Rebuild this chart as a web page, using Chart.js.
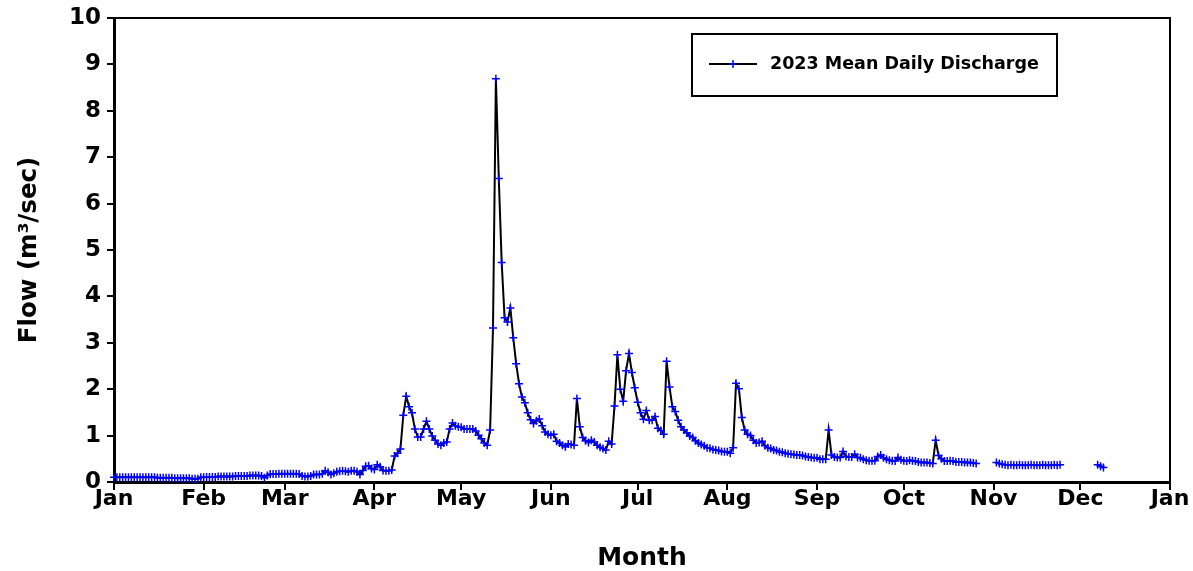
<!DOCTYPE html>
<html>
<head>
<meta charset="utf-8">
<script src="https://cdn.jsdelivr.net/npm/chart.js@4/dist/chart.umd.min.js"></script>
<style>
  body { margin: 0; background: #fff; }
  canvas { display: block; }
</style>
</head>
<body>
<canvas id="flowChart" width="1193" height="571"></canvas>
<script>
// Daily mean discharge 2023 (m3/sec), one array per month, null = missing day
const flowJan = [0.10,0.10,0.10,0.10,0.10,0.10,0.10,0.10,0.10,0.10,
  0.10,0.10,0.10,0.10,0.10,0.09,0.09,0.09,0.09,0.09,
  0.09,0.08,0.08,0.08,0.08,0.08,0.08,0.07,0.07,0.07,0.10];
const flowFeb = [0.10,0.11,0.11,0.11,0.11,0.12,0.12,0.12,0.12,
  0.12,0.12,0.13,0.13,0.13,0.13,0.13,0.14,0.14,0.14,
  0.14,0.13,0.09,0.14,0.17,0.17,0.17,0.18,0.18];
const flowMar = [0.18,
  0.18,0.18,0.18,0.18,0.17,0.13,0.12,0.12,0.13,0.16,
  0.16,0.16,0.18,0.24,0.21,0.16,0.19,0.22,0.23,0.24,
  0.23,0.22,0.24,0.24,0.22,0.16,0.25,0.34,0.35,0.29];
const flowApr = [0.27,0.37,0.33,0.25,0.24,0.24,0.26,0.56,0.62,0.71,
  1.44,1.85,1.62,1.49,1.14,0.97,0.97,1.14,1.31,1.14,
  0.99,0.90,0.82,0.79,0.84,0.86,1.14,1.27,1.21,1.19];
const flowMay = [1.18,1.14,1.14,1.14,1.14,1.10,1.01,0.93,0.84,0.79,
  1.12,3.32,8.69,6.54,4.73,3.54,3.45,3.75,3.11,2.55,
  2.12,1.83,1.71,1.49,1.34,1.26,1.32,1.36,1.21,1.08,1.03];
const flowJun = [1.01,1.03,0.88,0.84,0.79,0.76,0.82,0.81,0.79,
  1.80,1.19,0.96,0.89,0.85,0.90,0.86,0.79,0.75,0.72,
  0.69,0.88,0.82,1.64,2.74,2.00,1.74,2.40,2.77,2.36,2.03];
const flowJul = [1.72,1.49,1.35,1.54,1.33,1.33,1.41,1.16,1.11,1.03,
  2.60,2.05,1.62,1.52,1.33,1.19,1.12,1.06,0.99,0.96,
  0.89,0.84,0.81,0.78,0.74,0.73,0.70,0.69,0.68,0.66,0.65];
const flowAug = [0.65,0.62,0.74,2.13,2.01,1.39,1.12,1.03,1.00,
  0.90,0.84,0.85,0.88,0.78,0.74,0.72,0.69,0.68,0.65,
  0.64,0.62,0.61,0.60,0.59,0.58,0.58,0.57,0.55,0.54,0.53,0.52];
const flowSep = [0.52,0.49,0.49,0.49,1.12,0.58,0.54,0.53,0.53,0.66,
  0.55,0.54,0.54,0.60,0.53,0.52,0.49,0.47,0.46,0.46,
  0.46,0.55,0.58,0.52,0.49,0.47,0.46,0.45,0.53,0.48];
const flowOct = [0.46,0.45,0.47,0.46,0.45,0.43,0.42,0.42,0.42,0.41,0.40,
  0.90,0.57,0.50,0.45,0.45,0.46,0.45,0.43,0.43,0.43,0.42,0.42,0.42,0.41,0.40,
  null,null,null,null,null];
const flowNov = [null,
  0.42,0.40,0.38,0.37,0.36,0.37,0.36,0.36,0.37,0.36,0.36,0.36,
  0.37,0.36,0.36,0.36,0.37,0.36,0.36,0.36,0.37,0.36,0.37,
  null,null,null,null,null,null];
const flowDec = [null,null,null,null,null,null,0.37,0.34,0.31];

const monthStarts = [0,31,59,90,120,151,181,212,243,273,304,334,365];
const monthLabels = ['Jan','Feb','Mar','Apr','May','Jun','Jul','Aug','Sep','Oct','Nov','Dec','Jan'];

const flow = [].concat(flowJan, flowFeb, flowMar, flowApr, flowMay, flowJun,
  flowJul, flowAug, flowSep, flowOct, flowNov, flowDec);
const points = flow.map((v, i) => ({ x: i, y: v }));

const boldFont = (size) => ({ family: '"DejaVu Sans", sans-serif', size: size, weight: 'bold' });

// top/right frame and the boxed legend inside the plot
const frameAndLegend = {
  id: 'frameAndLegend',
  afterDatasetsDraw(chart) {
    const { ctx, chartArea: a } = chart;
    ctx.save();
    ctx.strokeStyle = '#000';
    ctx.lineWidth = 2;
    ctx.beginPath();
    ctx.moveTo(a.left, a.top);
    ctx.lineTo(a.right, a.top);
    ctx.lineTo(a.right, a.bottom);
    ctx.stroke();

    const bx = a.left + 578, by = a.top + 16, bw = 365, bh = 62;
    ctx.lineWidth = 2;
    ctx.strokeRect(bx, by, bw, bh);
    const ly = by + bh / 2 - 1;
    ctx.lineWidth = 2;
    ctx.beginPath();
    ctx.moveTo(bx + 17, ly);
    ctx.lineTo(bx + 65, ly);
    ctx.stroke();
    ctx.strokeStyle = '#0000ff';
    ctx.lineWidth = 1.5;
    ctx.beginPath();
    ctx.moveTo(bx + 37, ly); ctx.lineTo(bx + 45, ly);
    ctx.moveTo(bx + 41, ly - 4); ctx.lineTo(bx + 41, ly + 4);
    ctx.stroke();
    ctx.fillStyle = '#000';
    ctx.font = 'bold 17.5px "DejaVu Sans", sans-serif';
    ctx.textBaseline = 'middle';
    ctx.fillText(chart.data.datasets[0].label, bx + 78, ly);
    ctx.restore();
  }
};

new Chart(document.getElementById('flowChart'), {
  type: 'line',
  data: {
    datasets: [{
      label: '2023 Mean Daily Discharge',
      data: points,
      borderColor: '#000',
      borderWidth: 2,
      pointStyle: 'cross',
      pointRadius: 4,
      pointBorderColor: '#0000ff',
      pointBorderWidth: 1.5,
      pointBackgroundColor: '#0000ff',
      spanGaps: false,
      tension: 0,
      clip: false
    }]
  },
  options: {
    responsive: false,
    animation: false,
    layout: { padding: { top: 18, right: 23, left: 0, bottom: 0 } },
    plugins: {
      legend: { display: false },
      tooltip: { enabled: false }
    },
    scales: {
      x: {
        type: 'linear',
        min: 0,
        max: 365,
        afterBuildTicks: (scale) => { scale.ticks = monthStarts.map(v => ({ value: v })); },
        afterFit: (scale) => { scale.height = 89; scale.paddingLeft = 0; scale.paddingRight = 0; },
        ticks: {
          autoSkip: false,
          maxRotation: 0,
          color: '#000',
          font: boldFont(22),
          padding: -4,
          callback: (v, i) => monthLabels[i]
        },
        grid: { drawOnChartArea: false, drawTicks: true, tickLength: 8, color: '#000', lineWidth: 2 },
        border: { display: true, color: '#000', width: 3 },
        title: { display: true, text: 'Month', color: '#000', font: boldFont(25), padding: { top: 0, bottom: -2 } }
      },
      y: {
        min: 0,
        max: 10,
        afterFit: (scale) => { scale.width = 114; scale.paddingTop = 0; scale.paddingBottom = 0; },
        ticks: { stepSize: 1, color: '#000', font: boldFont(23), padding: 6 },
        grid: { drawOnChartArea: false, drawTicks: true, tickLength: 7, color: '#000', lineWidth: 2 },
        border: { display: true, color: '#000', width: 3 },
        title: { display: true, text: 'Flow (m³/sec)', color: '#000', font: boldFont(24.5), padding: { top: 15, bottom: 0 } }
      }
    }
  },
  plugins: [frameAndLegend]
});
</script>
</body>
</html>
